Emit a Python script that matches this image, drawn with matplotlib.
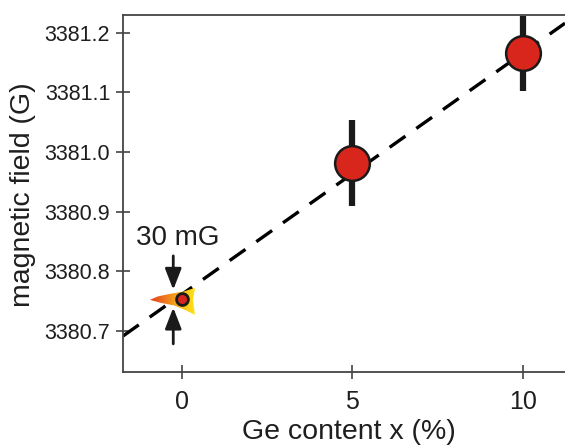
import matplotlib
matplotlib.use("Agg")
import matplotlib.pyplot as plt
import numpy as np
from matplotlib.patches import Polygon, FancyArrowPatch

plt.rcParams["font.family"] = ["Liberation Sans", "DejaVu Sans"]

# données
ge_content = [5, 10]
field = [3380.981, 3381.166]
field_err = [0.072, 0.063]

# point de référence (x = 0) et sa barre de 30 mG
ref_x = 0
ref_field = 3380.754
ref_span = 0.030

# ajustement linéaire
fit_slope = 0.0405
fit_intercept = 3380.761

xticks = [0, 5, 10]
yticks = [3380.7, 3380.8, 3380.9, 3381.0, 3381.1, 3381.2]

TXT = "#1e1e1e"
RED = "#d9261c"

fig = plt.figure(figsize=(5.65, 4.46), dpi=100)
ax = fig.add_axes([123 / 565, 1 - 372 / 446, 1 - 123 / 565, (372 - 15) / 446])
ax.set_xlim(-1.72, 11.24)
ax.set_ylim(3380.631, 3381.230)

# droite d'ajustement en tirets
xl = np.array(ax.get_xlim())
ax.plot(xl, fit_intercept + fit_slope * xl, color="black", lw=2.4,
        dashes=(5.8, 4.0), zorder=2)

# points + barres d'erreur
ax.errorbar(ge_content, field, yerr=field_err, fmt="none", ecolor="#1a1a1a",
            elinewidth=4.5, capsize=0, zorder=3)
ax.plot(ge_content, field, "o", ms=25, mfc=RED, mec="#1a1a1a", mew=1.8, zorder=4)

# "flamme" en dégradé autour du point x = 0
px2x = lambda px: (px - 181.7) / 34.1
py2y = lambda py: 3381.2 - (py - 33) / 596
flame_px = [(150, 300), (158, 296.5), (170, 294), (184, 291.5), (195, 288),
            (193, 300), (195, 315), (186, 310.5), (174, 305.5), (161, 303)]
flame = Polygon([(px2x(a), py2y(b)) for a, b in flame_px], closed=True,
                facecolor="none", edgecolor="none", zorder=3)
ax.add_patch(flame)
grad = np.linspace(0, 1, 256).reshape(1, -1)
cmap = matplotlib.colors.LinearSegmentedColormap.from_list(
    "flame", ["#e2401c", "#ee7a1e", "#f7b81a", "#ffe714"])
im = ax.imshow(grad, cmap=cmap, aspect="auto", zorder=3,
               extent=(px2x(150), px2x(195), py2y(316), py2y(287)))
im.set_clip_path(flame)
ax.plot([ref_x], [ref_field], "o", ms=8.5, mfc=RED, mec="#1a1a1a", mew=2.0, zorder=5)

# flèches 30 mG
arr_x = px2x(173.3)
top = ref_field + ref_span / 2
bot = ref_field - ref_span / 2
for y0, y1 in [(py2y(256), top), (py2y(344), bot)]:
    ax.add_patch(FancyArrowPatch((arr_x, y0), (arr_x, y1),
                                 arrowstyle="-|>,head_length=0.85,head_width=0.33",
                                 mutation_scale=15, lw=2.0, color="#1a1a1a",
                                 shrinkA=0, shrinkB=0, zorder=6))
ax.text(px2x(178), py2y(238), "30 mG", ha="center", va="center", fontsize=20, color=TXT)

# axes
ax.set_xticks(xticks)
ax.set_xticklabels([str(v) for v in xticks])
ax.set_yticks(yticks)
ax.set_yticklabels([f"{v:.1f}" for v in yticks])
ax.tick_params(direction="inout", length=9.5, width=1.2, color="#444444",
               labelcolor=TXT)
ax.tick_params(axis="x", labelsize=18, pad=8.5)
ax.tick_params(axis="y", labelsize=15.5, pad=4.5)
for s in ["left", "bottom", "top"]:
    ax.spines[s].set_color("#444444")
    ax.spines[s].set_linewidth(1.3)
ax.spines["right"].set_visible(False)
ax.set_xlabel("Ge content x (%)", fontsize=20.5, color=TXT)
ax.set_ylabel("magnetic field (G)", fontsize=20.5, color=TXT)
ax.xaxis.set_label_coords(0.511, -0.132)
ax.yaxis.set_label_coords(-0.197, 0.496)

fig.savefig("out.png", dpi=100)
